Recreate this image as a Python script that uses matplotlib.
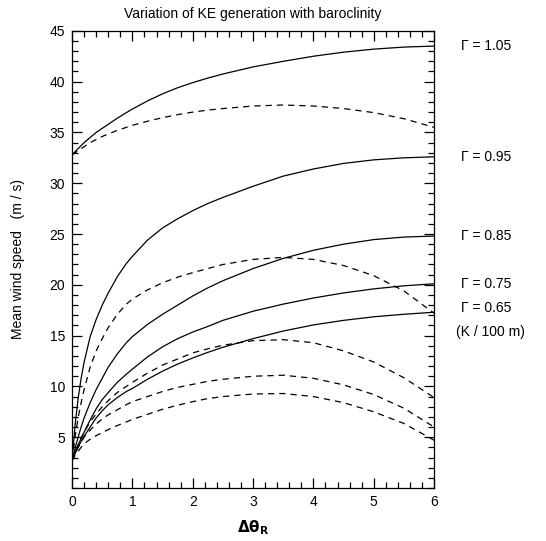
#! /usr/bin/env python

import numpy as np
import matplotlib
matplotlib.use("Agg")
import matplotlib.pyplot as plt
from matplotlib.ticker import MultipleLocator

plt.rcParams['font.family'] = ['Liberation Sans', 'DejaVu Sans']

# baroclinity (x axis), shared by all curves
d_theta = [0, 0.05, 0.1, 0.15, 0.2, 0.3, 0.4, 0.5, 0.6, 0.75, 0.9, 1, 1.25, 1.5, 1.75,
           2, 2.25, 2.5, 3, 3.5, 4, 4.5, 5, 5.5, 6]

# solid curves, one per Gamma
solid_105 = [32.8, 33.1, 33.4, 33.7, 34.0, 34.5, 35.0, 35.4, 35.8, 36.4, 36.95, 37.3, 38.1, 38.8, 39.4,
             39.9, 40.35, 40.75, 41.45, 42.0, 42.5, 42.9, 43.2, 43.4, 43.5]
solid_095 = [2.7, 6.2, 8.8, 10.8, 12.4, 14.9, 16.6, 18.0, 19.2, 20.8, 22.1, 22.8, 24.4, 25.6, 26.5,
             27.3, 28.0, 28.6, 29.7, 30.7, 31.4, 31.95, 32.3, 32.5, 32.6]
solid_085 = [2.7, 3.9, 5.0, 6.0, 6.9, 8.4, 9.7, 10.8, 11.9, 13.2, 14.3, 14.9, 16.1, 17.1, 18.0,
             18.9, 19.7, 20.4, 21.6, 22.6, 23.4, 24.0, 24.45, 24.7, 24.8]
solid_075 = [2.7, 3.5, 4.2, 4.9, 5.5, 6.7, 7.8, 8.7, 9.4, 10.4, 11.2, 11.7, 12.9, 13.9, 14.7,
             15.35, 15.9, 16.5, 17.4, 18.1, 18.7, 19.2, 19.6, 19.9, 20.1]
solid_065 = [2.7, 3.4, 4.0, 4.6, 5.1, 6.0, 6.9, 7.6, 8.2, 8.9, 9.5, 9.8, 10.7, 11.5, 12.2,
             12.8, 13.35, 13.85, 14.7, 15.45, 16.05, 16.5, 16.85, 17.1, 17.3]

# dashed curves
dash_105 = [32.8, 33.0, 33.2, 33.4, 33.6, 34.0, 34.3, 34.6, 34.85, 35.2, 35.5, 35.7, 36.1, 36.45, 36.75,
            37.0, 37.2, 37.35, 37.6, 37.7, 37.6, 37.35, 36.95, 36.35, 35.5]
dash_095 = [2.7, 5.0, 6.9, 8.4, 9.7, 11.9, 13.5, 14.7, 15.8, 17.1, 18.1, 18.6, 19.5, 20.2, 20.75,
            21.2, 21.6, 22.0, 22.5, 22.7, 22.5, 21.9, 20.9, 19.4, 17.2]
dash_085 = [2.7, 3.5, 4.2, 4.9, 5.5, 6.5, 7.3, 8.0, 8.6, 9.4, 10.0, 10.4, 11.3, 12.1, 12.7,
            13.3, 13.7, 14.05, 14.5, 14.6, 14.3, 13.5, 12.4, 10.85, 8.9]
dash_075 = [2.7, 3.4, 4.0, 4.5, 5.0, 5.7, 6.3, 6.8, 7.2, 7.7, 8.2, 8.5, 9.0, 9.5, 9.9,
            10.2, 10.5, 10.7, 11.0, 11.1, 10.8, 10.15, 9.2, 7.85, 6.0]
dash_065 = [2.7, 3.2, 3.6, 4.0, 4.35, 4.8, 5.15, 5.45, 5.75, 6.15, 6.5, 6.75, 7.25, 7.75, 8.15,
            8.5, 8.8, 9.0, 9.25, 9.3, 9.0, 8.4, 7.5, 6.35, 4.7]

gamma_labels = ['\u0393 = 1.05', '\u0393 = 0.95', '\u0393 = 0.85', '\u0393 = 0.75', '\u0393 = 0.65']
label_values = [43.5, 32.6, 24.8, 20.1, 17.7]

fig = plt.figure(figsize=(5.46, 5.41), dpi=100)
ax = fig.add_axes([0.132, 0.098, 0.663, 0.845])

lw = 0.9
for y in (solid_105, solid_095, solid_085, solid_075, solid_065):
    ax.plot(d_theta, y, color='k', lw=lw)
for y in (dash_105, dash_095, dash_085, dash_075, dash_065):
    ax.plot(d_theta, y, color='k', lw=lw, dashes=(5, 4))

ax.set_xlim(0, 6)
ax.set_ylim(0, 45)
ax.xaxis.set_major_locator(MultipleLocator(1))
ax.xaxis.set_minor_locator(MultipleLocator(0.2))
ax.set_yticks([5, 10, 15, 20, 25, 30, 35, 40, 45])
ax.yaxis.set_minor_locator(MultipleLocator(1))
ax.tick_params(which='both', direction='in', top=True, right=True, width=0.9, labelsize=10)
ax.tick_params(which='major', length=7, pad=5)
ax.tick_params(which='minor', length=4)
for s in ax.spines.values():
    s.set_linewidth(0.9)

ax.set_title('Variation of KE generation with baroclinity', fontsize=10, pad=9)
ax.set_ylabel('Mean wind speed   (m / s)', fontsize=10, labelpad=18)
ax.set_xlabel(r'$\mathbf{\Delta\theta}_{\mathbf{R}}$', fontsize=11, labelpad=7)

for txt, v in zip(gamma_labels, label_values):
    ax.text(6.45, v, txt, fontsize=10, va='center', ha='left')
ax.text(6.37, 15.4, '(K / 100 m)', fontsize=10, va='center', ha='left')

plt.savefig('out.png', dpi=100)
